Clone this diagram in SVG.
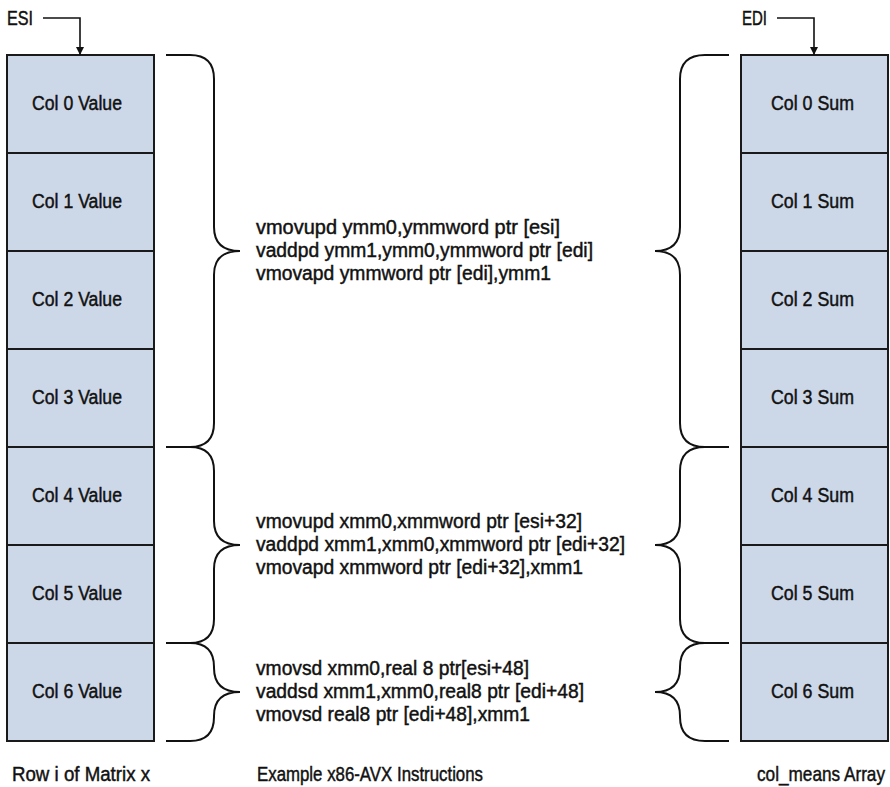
<svg xmlns="http://www.w3.org/2000/svg" width="890" height="787" viewBox="0 0 890 787">
<defs>
<style>
.cell{fill:#ccd7e8;stroke:#1a1a1a;stroke-width:2}
.t{font-family:"Liberation Sans",Arial,sans-serif;font-size:20px;fill:#111;stroke:#111;stroke-width:0.45}
.c{text-anchor:middle}
.br{fill:none;stroke:#111;stroke-width:2}
.ln{fill:none;stroke:#111;stroke-width:1.6}
</style>
<marker id="ah" viewBox="0 0 10 10" refX="10" refY="5" markerWidth="8" markerHeight="8" markerUnits="userSpaceOnUse" orient="auto">
<path d="M0,0 L10,5 L0,10 Z" fill="#111"/>
</marker>
</defs>
<rect width="890" height="787" fill="#fff"/>

<g id="matrix-row">
<g id="col0v"><rect class="cell" x="7" y="55" width="147" height="98"/><text class="t c" x="77" y="110" textLength="90" lengthAdjust="spacingAndGlyphs">Col 0 Value</text></g>
<g id="col1v"><rect class="cell" x="7" y="153" width="147" height="98"/><text class="t c" x="77" y="208" textLength="90" lengthAdjust="spacingAndGlyphs">Col 1 Value</text></g>
<g id="col2v"><rect class="cell" x="7" y="251" width="147" height="98"/><text class="t c" x="77" y="306" textLength="90" lengthAdjust="spacingAndGlyphs">Col 2 Value</text></g>
<g id="col3v"><rect class="cell" x="7" y="349" width="147" height="98"/><text class="t c" x="77" y="404" textLength="90" lengthAdjust="spacingAndGlyphs">Col 3 Value</text></g>
<g id="col4v"><rect class="cell" x="7" y="447" width="147" height="98"/><text class="t c" x="77" y="502" textLength="90" lengthAdjust="spacingAndGlyphs">Col 4 Value</text></g>
<g id="col5v"><rect class="cell" x="7" y="545" width="147" height="98"/><text class="t c" x="77" y="600" textLength="90" lengthAdjust="spacingAndGlyphs">Col 5 Value</text></g>
<g id="col6v"><rect class="cell" x="7" y="643" width="147" height="98"/><text class="t c" x="77" y="698" textLength="90" lengthAdjust="spacingAndGlyphs">Col 6 Value</text></g>
</g>

<g id="col-means">
<g id="col0s"><rect class="cell" x="741" y="55" width="147" height="98"/><text class="t c" x="812.5" y="110" textLength="83" lengthAdjust="spacingAndGlyphs">Col 0 Sum</text></g>
<g id="col1s"><rect class="cell" x="741" y="153" width="147" height="98"/><text class="t c" x="812.5" y="208" textLength="83" lengthAdjust="spacingAndGlyphs">Col 1 Sum</text></g>
<g id="col2s"><rect class="cell" x="741" y="251" width="147" height="98"/><text class="t c" x="812.5" y="306" textLength="83" lengthAdjust="spacingAndGlyphs">Col 2 Sum</text></g>
<g id="col3s"><rect class="cell" x="741" y="349" width="147" height="98"/><text class="t c" x="812.5" y="404" textLength="83" lengthAdjust="spacingAndGlyphs">Col 3 Sum</text></g>
<g id="col4s"><rect class="cell" x="741" y="447" width="147" height="98"/><text class="t c" x="812.5" y="502" textLength="83" lengthAdjust="spacingAndGlyphs">Col 4 Sum</text></g>
<g id="col5s"><rect class="cell" x="741" y="545" width="147" height="98"/><text class="t c" x="812.5" y="600" textLength="83" lengthAdjust="spacingAndGlyphs">Col 5 Sum</text></g>
<g id="col6s"><rect class="cell" x="741" y="643" width="147" height="98"/><text class="t c" x="812.5" y="698" textLength="83" lengthAdjust="spacingAndGlyphs">Col 6 Sum</text></g>
</g>

<g id="esi"><text class="t" x="7" y="25" textLength="26" lengthAdjust="spacingAndGlyphs">ESI</text></g>
<g id="edi"><text class="t" x="742" y="25" textLength="25" lengthAdjust="spacingAndGlyphs">EDI</text></g>

<g id="instr1">
<text class="t" x="256" y="234" textLength="304" lengthAdjust="spacingAndGlyphs">vmovupd ymm0,ymmword ptr [esi]</text>
<text class="t" x="256" y="257" textLength="337" lengthAdjust="spacingAndGlyphs">vaddpd ymm1,ymm0,ymmword ptr [edi]</text>
<text class="t" x="256" y="280" textLength="295" lengthAdjust="spacingAndGlyphs">vmovapd ymmword ptr [edi],ymm1</text>
</g>
<g id="instr2">
<text class="t" x="256" y="528" textLength="326" lengthAdjust="spacingAndGlyphs">vmovupd xmm0,xmmword ptr [esi+32]</text>
<text class="t" x="256" y="551" textLength="369" lengthAdjust="spacingAndGlyphs">vaddpd xmm1,xmm0,xmmword ptr [edi+32]</text>
<text class="t" x="256" y="574" textLength="327" lengthAdjust="spacingAndGlyphs">vmovapd xmmword ptr [edi+32],xmm1</text>
</g>
<g id="instr3">
<text class="t" x="256" y="675" textLength="273" lengthAdjust="spacingAndGlyphs">vmovsd xmm0,real 8 ptr[esi+48]</text>
<text class="t" x="256" y="698" textLength="328" lengthAdjust="spacingAndGlyphs">vaddsd xmm1,xmm0,real8 ptr [edi+48]</text>
<text class="t" x="256" y="721" textLength="274" lengthAdjust="spacingAndGlyphs">vmovsd real8 ptr [edi+48],xmm1</text>
</g>

<g id="captions">
<text class="t" x="12" y="781" textLength="138" lengthAdjust="spacingAndGlyphs">Row i of Matrix x</text>
<text class="t" x="257" y="781" textLength="226" lengthAdjust="spacingAndGlyphs">Example x86-AVX Instructions</text>
<text class="t" transform="translate(757,781) scale(0.86,1)" x="0" y="0">col_means Array</text>
</g>

<g id="connectors">
<path class="ln" d="M43,18 H80 V55" marker-end="url(#ah)"/>
<path class="ln" d="M777,18 H814 V55" marker-end="url(#ah)"/>
<path class="br" d="M166,55 H190 Q214,55 214,79 V227 Q214,251 240,251 Q214,251 214,275 V423 Q214,447 190,447 H166"/>
<path class="br" d="M166,447 H190 Q214,447 214,471 V521 Q214,545 240,545 Q214,545 214,569 V619 Q214,643 190,643 H166"/>
<path class="br" d="M166,643 H190 Q214,643 214,667 V668 Q214,692 240,692 Q214,692 214,716 V717 Q214,741 190,741 H166"/>
<path class="br" d="M729,55 H705 Q680,55 680,79 V227 Q680,251 655,251 Q680,251 680,275 V423 Q680,447 705,447 H729"/>
<path class="br" d="M729,447 H705 Q680,447 680,471 V521 Q680,545 655,545 Q680,545 680,569 V619 Q680,643 705,643 H729"/>
<path class="br" d="M729,643 H705 Q680,643 680,667 V668 Q680,692 655,692 Q680,692 680,716 V717 Q680,741 705,741 H729"/>
</g>
</svg>
